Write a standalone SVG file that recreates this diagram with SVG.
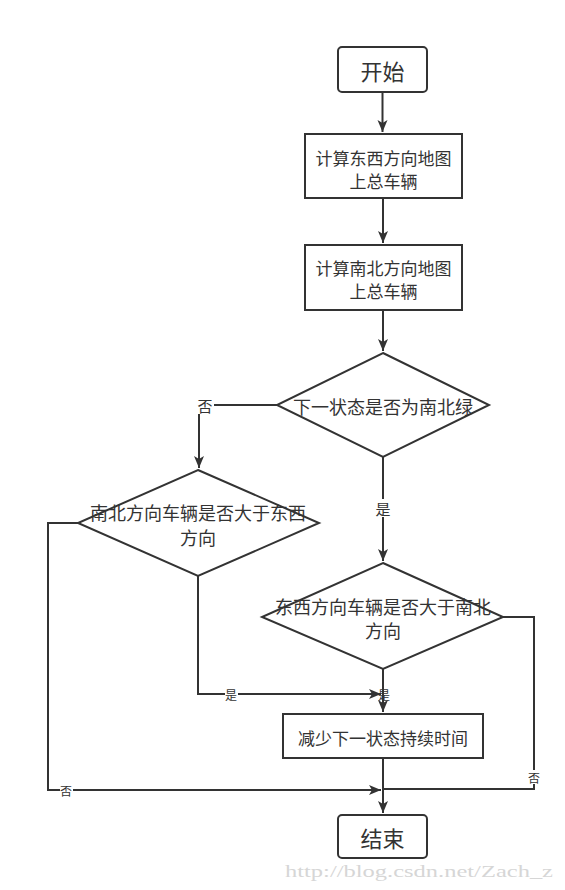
<svg xmlns="http://www.w3.org/2000/svg" width="565" height="890" viewBox="0 0 565 890">
<style>
.shape{fill:#fff;stroke:#333;stroke-width:2}
.t{font-family:"Noto Sans CJK SC","Liberation Sans",sans-serif;fill:#333;text-anchor:middle;dominant-baseline:central}
.b{font-size:17px}
.d{font-size:18px}
.big{font-size:22px}
.lbl{font-size:15px}
.sl{font-size:12px}
.c{fill:none;stroke:#333;stroke-width:2}
.bg{fill:#fff}
</style>
<defs>
<marker id="arr" markerUnits="userSpaceOnUse" markerWidth="14" markerHeight="12" refX="12" refY="5" orient="auto">
<path d="M0,0 L12,5 L0,10 L3,5 Z" fill="#333"/>
</marker>
</defs>
<rect width="565" height="890" fill="#fff"/>
<g id="connectors">
<path class="c" d="M382.5,92 V132" marker-end="url(#arr)"/>
<path class="c" d="M383,198 V243" marker-end="url(#arr)"/>
<path class="c" d="M383,310 V351" marker-end="url(#arr)"/>
<path class="c" d="M277,405 H199 V468" marker-end="url(#arr)"/>
<path class="c" d="M383,457 V561" marker-end="url(#arr)"/>
<path class="c" d="M78,523 H48 V790 H381" marker-end="url(#arr)"/>
<path class="c" d="M198,576 V694 H381" marker-end="url(#arr)"/>
<path class="c" d="M383,669 V712" marker-end="url(#arr)"/>
<path class="c" d="M503,617 H534 V789 H383"/>
<path class="c" d="M383,758 V813" marker-end="url(#arr)"/>
<rect class="bg" x="197" y="396" width="17" height="18"/>
<text class="t lbl" x="205" y="405">否</text>
<rect class="bg" x="375" y="499" width="17" height="18"/>
<text class="t lbl" x="383" y="508">是</text>
<rect class="bg" x="225" y="687" width="13" height="14"/>
<text class="t sl" x="231" y="694">是</text>
<rect class="bg" x="60" y="783" width="13" height="14"/>
<text class="t sl" x="66" y="790">否</text>
<rect class="bg" x="528" y="770" width="13" height="14"/>
<text class="t sl" x="534" y="777">否</text>
<text class="t sl" x="384" y="694">是</text>
</g>
<g id="start">
<rect class="shape" x="338" y="47" width="89" height="45" rx="4"/>
<text class="t big" x="382.5" y="70">开始</text>
</g>
<g id="calcEW">
<rect class="shape" x="305" y="134" width="157" height="64"/>
<text class="t b" x="383.5" y="157">计算东西方向地图</text>
<text class="t b" x="383.5" y="180">上总车辆</text>
</g>
<g id="calcNS">
<rect class="shape" x="305" y="245" width="157" height="65"/>
<text class="t b" x="383.5" y="267">计算南北方向地图</text>
<text class="t b" x="383.5" y="290">上总车辆</text>
</g>
<g id="decision1">
<polygon class="shape" points="383,353 489,405 383,457 277,405"/>
<text class="t d" x="383" y="406">下一状态是否为南北绿</text>
</g>
<g id="decision2">
<polygon class="shape" points="198,470 319,523 198,576 78,523"/>
<text class="t d" x="198" y="512">南北方向车辆是否大于东西</text>
<text class="t d" x="198" y="537">方向</text>
</g>
<g id="decision3">
<polygon class="shape" points="383,563 503,617 383,669 262,617"/>
<text class="t d" x="383" y="606">东西方向车辆是否大于南北</text>
<text class="t d" x="383" y="630">方向</text>
</g>
<g id="reduce">
<rect class="shape" x="283" y="714" width="200" height="44"/>
<text class="t b" x="383" y="737">减少下一状态持续时间</text>
</g>
<g id="end">
<rect class="shape" x="338" y="815" width="89" height="43" rx="4"/>
<text class="t big" x="382.5" y="837">结束</text>
</g>
<text x="285" y="877" font-family="Liberation Serif,serif" font-size="17" fill="#d6d6d6" textLength="268" lengthAdjust="spacingAndGlyphs">http://blog.csdn.net/Zach_z</text>
</svg>
